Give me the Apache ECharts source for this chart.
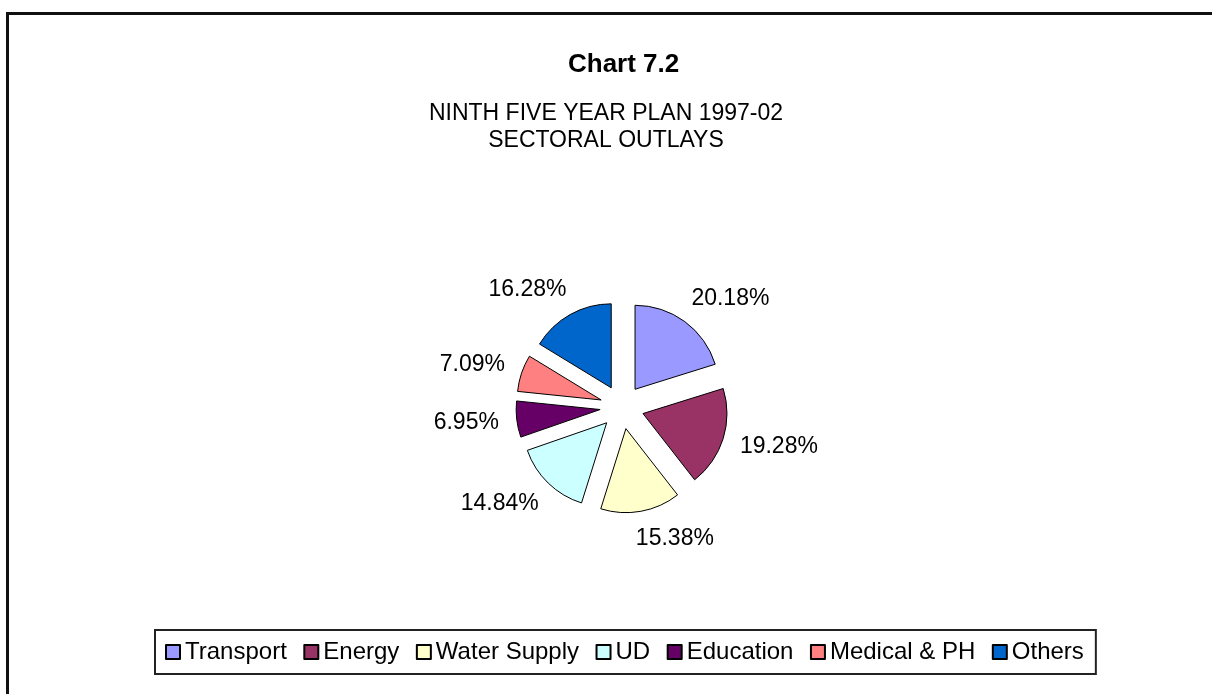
<!DOCTYPE html>
<html>
<head>
<meta charset="utf-8">
<script src="https://cdn.jsdelivr.net/npm/echarts@6/dist/echarts.min.js"></script>
<style>
  html, body { margin: 0; padding: 0; background: #fff; }
  .frame {
    position: absolute;
    left: 6px;
    top: 12px;
    right: 0;
    bottom: 0;
    border-top: 3px solid #111;
    border-left: 3px solid #111;
  }
  #chart { position: absolute; left: 0; top: 0; width: 1212px; height: 694px; }
</style>
</head>
<body>
<div class="frame"></div>
<div id="chart"></div>
<script>
const sectors = ["Transport", "Energy", "Water Supply", "UD", "Education", "Medical & PH", "Others"];
const shares = [20.18, 19.28, 15.38, 14.84, 6.95, 7.09, 16.28];
const colors = ["#9999FF", "#993366", "#FFFFCC", "#CCFFFF", "#660066", "#FF8080", "#0066CC"];

const font = "'Liberation Sans', Arial, sans-serif";

// all slices pulled out, like the exploded excel pie
const pieData = sectors.map((name, i) => ({
  name,
  value: shares[i],
  selected: true,
  itemStyle: { color: colors[i] },
}));

const myChart = echarts.init(document.getElementById("chart"), null, { renderer: "canvas" });

const option = {
  animation: false,
  backgroundColor: "transparent",
  title: [
    {
      text: "Chart 7.2",
      left: 563,
      top: 47,
      textStyle: { fontFamily: font, fontSize: 26, fontWeight: "bold", color: "#000" },
    },
    {
      text: "NINTH FIVE YEAR PLAN 1997-02\nSECTORAL OUTLAYS",
      left: "center",
      top: 95,
      textStyle: { fontFamily: font, fontSize: 23, fontWeight: "normal", lineHeight: 27, color: "#000" },
    },
  ],
  legend: {
    data: sectors,
    left: 155,
    top: 630,
    orient: "horizontal",
    padding: [10, 12, 10, 10],
    borderColor: "#222",
    borderWidth: 2,
    itemWidth: 14,
    itemHeight: 14,
    itemGap: 16.5,
    icon: "rect",
    selectedMode: false,
    textStyle: { fontFamily: font, fontSize: 24, color: "#000" },
  },
  series: [
    {
      type: "pie",
      center: [622, 407],
      radius: 84,
      startAngle: 90,
      clockwise: true,
      selectedMode: "multiple",
      selectedOffset: 22,
      avoidLabelOverlap: false,
      emphasis: { disabled: true },
      itemStyle: { borderColor: "#000", borderWidth: 1 },
      select: { itemStyle: { borderColor: "#000", borderWidth: 1 } },
      label: {
        show: true,
        position: "outside",
        fontFamily: font,
        fontSize: 23,
        color: "#000",
        distanceToLabelLine: -10,
        formatter: (p) => p.value.toFixed(2) + "%",
      },
      labelLine: { show: false, length: 28, length2: 0 },
      data: pieData,
    },
  ],
};

myChart.setOption(option);
</script>
</body>
</html>
